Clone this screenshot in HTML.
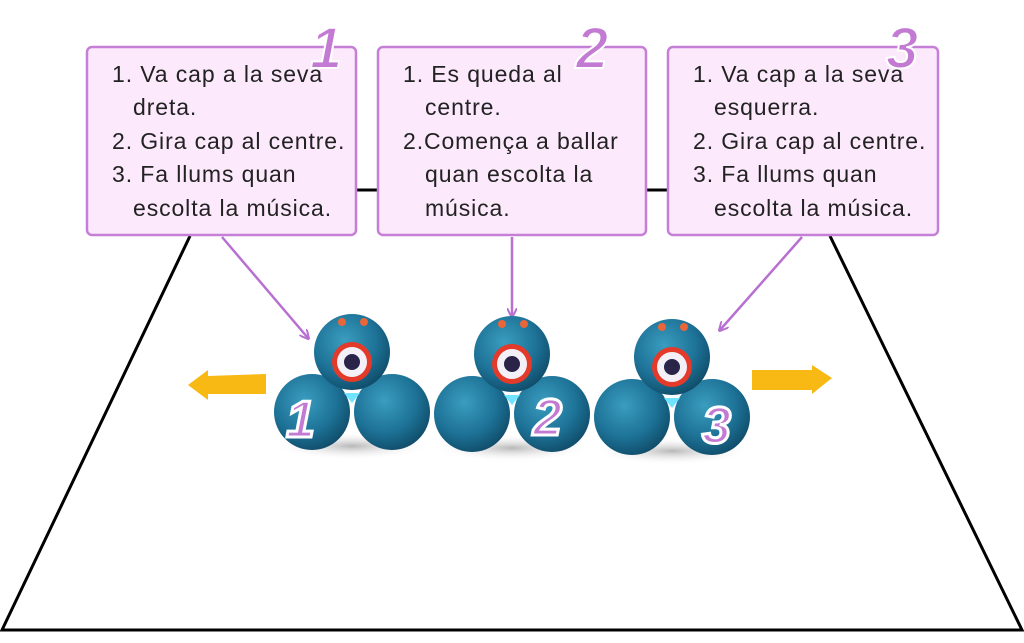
<!DOCTYPE html>
<html><head><style>
body{margin:0;background:#fff;}
svg text{font-family:"Liberation Sans",sans-serif;}
</style></head><body>
<svg width="1024" height="638" viewBox="0 0 1024 638" xmlns="http://www.w3.org/2000/svg">
<defs>
<radialGradient id="b" cx="0.4" cy="0.35" r="0.7"><stop offset="0" stop-color="#3a9dbf"/><stop offset="0.6" stop-color="#1d7297"/><stop offset="1" stop-color="#0f4a66"/></radialGradient>
<radialGradient id="sh" cx="0.5" cy="0.5" r="0.5"><stop offset="0" stop-color="#888" stop-opacity="0.6"/><stop offset="1" stop-color="#fff" stop-opacity="0"/></radialGradient>
<marker id="ar" markerWidth="10" markerHeight="10" refX="8" refY="5" orient="auto" markerUnits="userSpaceOnUse"><path d="M0,0 L10,5 L0,10" fill="none" stroke="#b770d0" stroke-width="2"/></marker>
<g id="robot">
<ellipse cx="0" cy="58" rx="80" ry="14" fill="url(#sh)"/>
<circle cx="-40" cy="24" r="38" fill="url(#b)"/>
<circle cx="40" cy="24" r="38" fill="url(#b)"/>
<circle cx="0" cy="-36" r="38" fill="url(#b)"/>
<circle cx="0" cy="-26" r="20" fill="#e33a2a"/>
<circle cx="0" cy="-26" r="15" fill="#f4f0f8"/>
<circle cx="0" cy="-26" r="8" fill="#2a2448"/>
<circle cx="-10" cy="-66" r="4" fill="#e8663a"/>
<circle cx="12" cy="-66" r="4" fill="#e8663a"/>
<path d="M-8,5 L8,5 L0,15 Z" fill="#6fe3ff"/>
</g>
</defs>
<polyline points="190,190 830,190" stroke="#000" stroke-width="3" fill="none"/>
<polyline points="190,236 2,630 1022,630 830,236" stroke="#000" stroke-width="3" fill="none"/>
<g stroke="#c57fd6" stroke-width="2.5" fill="#fce9fc">
<rect x="87" y="47" width="269" height="188" rx="5"/>
<rect x="378" y="47" width="268" height="188" rx="5"/>
<rect x="668" y="47" width="270" height="188" rx="5"/>
</g>
<g font-size="23" fill="#222" letter-spacing="0.9">
<text x="112" y="82">1.  Va cap a la seva</text>
<text x="133" y="115">dreta.</text>
<text x="112" y="149">2.  Gira cap al centre.</text>
<text x="112" y="182">3.  Fa llums quan</text>
<text x="133" y="216">escolta la música.</text>
<text x="403" y="82">1.  Es queda al</text>
<text x="425" y="115">centre.</text>
<text x="403" y="149">2.Comença a ballar</text>
<text x="425" y="182">quan escolta la</text>
<text x="425" y="216">música.</text>
<text x="693" y="82">1.  Va cap a la seva</text>
<text x="714" y="115">esquerra.</text>
<text x="693" y="149">2.  Gira cap al centre.</text>
<text x="693" y="182">3.  Fa llums quan</text>
<text x="714" y="216">escolta la música.</text>
</g>
<g font-size="58" font-weight="bold" font-style="italic" fill="#c27ad3" stroke="#fff" stroke-width="2">
<text x="310" y="68">1</text>
<text x="576" y="68">2</text>
<text x="886" y="68">3</text>
</g>
<g stroke="#b770d0" stroke-width="2.5">
<line x1="222" y1="237" x2="308" y2="338" marker-end="url(#ar)"/>
<line x1="512" y1="237" x2="512" y2="316" marker-end="url(#ar)"/>
<line x1="802" y1="237" x2="720" y2="330" marker-end="url(#ar)"/>
</g>
<use href="#robot" x="352" y="388"/>
<use href="#robot" x="512" y="390"/>
<use href="#robot" x="672" y="393"/>
<g font-size="52" font-weight="bold" font-style="italic" fill="#c27ad3" stroke="#fff" stroke-width="3">
<text x="286" y="437">1</text>
<text x="533" y="435">2</text>
<text x="702" y="443">3</text>
</g>
<path d="M188,385 L208,370 L208,376 L266,374 L266,394 L208,394 L208,400 Z" fill="#f8b914"/>
<path d="M832,378 L812,365 L812,370 L752,370 L752,390 L812,390 L812,394 Z" fill="#f8b914"/>
</svg>
</body></html>
